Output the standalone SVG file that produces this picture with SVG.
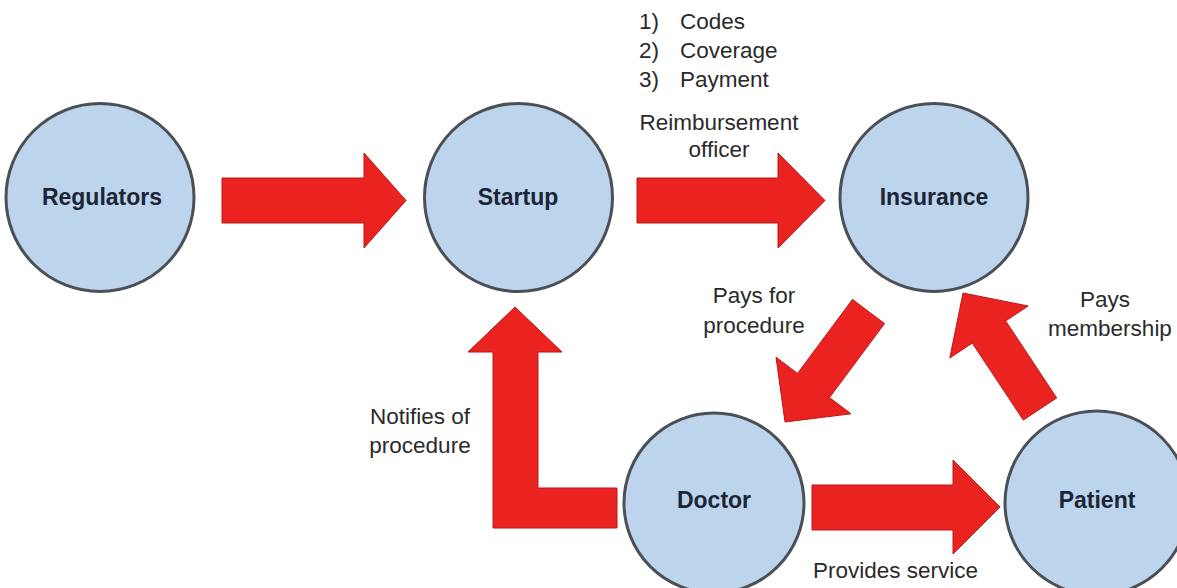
<svg xmlns="http://www.w3.org/2000/svg" width="1177" height="588" viewBox="0 0 1177 588">
  <style>
    .node circle { fill: #bcd4ec; stroke: #4b4f56; stroke-width: 3; }
    .node text { font-family: "Liberation Sans", Arial, sans-serif; font-weight: bold; font-size: 23px; fill: #1c2536; text-anchor: middle; }
    .arrow { fill: #ea2320; stroke: #b8191a; stroke-width: 1; stroke-linejoin: miter; }
    .lbl { font-family: "Liberation Sans", Arial, sans-serif; font-size: 22.5px; fill: #2a2a2a; }
    .mid { text-anchor: middle; }
  </style>
  <rect x="0" y="0" width="1177" height="588" fill="#ffffff"/>

  <g id="connectors">
    <polygon class="arrow" points="222,178 364,178 364,153 406,200.5 364,248 364,223 222,223"/>
    <polygon class="arrow" points="637,178 778,178 778,153 825,200.5 778,248 778,223 637,223"/>
    <polygon class="arrow" points="812,485 953,485 953,460 1000,507 953,554 953,530 812,530"/>
    <polygon class="arrow" points="515,307 562,352 538,352 538,488 617,488 617,528 493,528 493,352 468,352"/>
    <polygon class="arrow" points="884.5,323.6 829.5,397.6 851,413.8 785,422 776,357.2 797.5,373.4 852.5,299.4"/>
    <polygon class="arrow" points="1056.7,397.9 1005.7,320.9 1028.2,306 963,293 949.8,358 972.3,343.1 1023.3,420.1"/>
  </g>

  <g id="node-regulators" class="node">
    <circle cx="100" cy="197.5" r="94"/>
    <text x="102" y="205">Regulators</text>
  </g>
  <g id="node-startup" class="node">
    <circle cx="518.5" cy="197.5" r="94"/>
    <text x="518" y="205">Startup</text>
  </g>
  <g id="node-insurance" class="node">
    <circle cx="934" cy="197.5" r="94"/>
    <text x="934" y="205">Insurance</text>
  </g>
  <g id="node-doctor" class="node">
    <circle cx="714" cy="503" r="90"/>
    <text x="714" y="508">Doctor</text>
  </g>
  <g id="node-patient" class="node">
    <circle cx="1097" cy="503" r="92"/>
    <text x="1097" y="508">Patient</text>
  </g>

  <g id="labels">
    <text class="lbl" x="639" y="29">1)</text>
    <text class="lbl" x="680" y="29">Codes</text>
    <text class="lbl" x="639" y="58">2)</text>
    <text class="lbl" x="680" y="58">Coverage</text>
    <text class="lbl" x="639" y="87">3)</text>
    <text class="lbl" x="680" y="87">Payment</text>
    <text class="lbl mid" x="719" y="130">Reimbursement</text>
    <text class="lbl mid" x="719" y="157">officer</text>
    <text class="lbl mid" x="754" y="303">Pays for</text>
    <text class="lbl mid" x="754" y="333">procedure</text>
    <text class="lbl mid" x="1105" y="307">Pays</text>
    <text class="lbl mid" x="1110" y="336">membership</text>
    <text class="lbl mid" x="420" y="424">Notifies of</text>
    <text class="lbl mid" x="420" y="453">procedure</text>
    <text class="lbl" x="813" y="578">Provides service</text>
  </g>
</svg>
